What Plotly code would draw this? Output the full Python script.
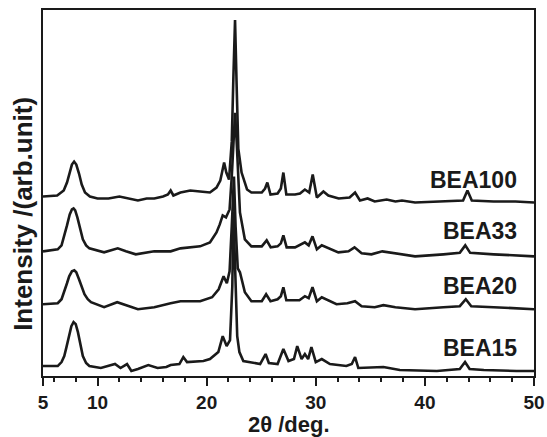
import plotly.graph_objects as go

# 2-theta positions (deg) and intensities (arb. units)
bea100_x = [5, 6.3, 6.9, 7.2, 7.45, 7.65, 7.85, 8.05, 8.3, 8.55, 8.85, 9.3, 10.0, 11.0, 12.0, 12.8, 13.7,
            14.5, 15.2, 16.0, 16.45, 16.7, 16.95, 17.6, 18.5, 19.4, 20.3, 20.9, 21.25, 21.6, 21.8, 22.05,
            22.3, 22.45, 22.6, 22.75, 22.9, 23.2, 23.7, 24.1, 25.05, 25.35, 25.56, 25.85, 26.5, 26.8,
            27.03, 27.3, 28.1, 28.55, 29.0, 29.4, 29.72, 30.1, 30.7, 31.15, 32.1, 33.1, 33.6, 34.05,
            34.75, 35.4, 36.5, 37.3, 37.9, 39.1, 41.7, 43.5, 43.9, 44.3, 46.3, 48.3, 50]
bea100_y = [180, 181, 186, 194, 204, 212, 215, 212, 203, 192, 184, 180, 178, 178, 180, 178, 176,
            178, 178, 180, 182, 186, 181, 184, 186, 185, 184, 189, 196, 214, 204, 197,
            235, 300, 357, 290, 228, 204, 187, 184, 184, 188, 194, 182, 183, 188,
            204, 182, 182, 183, 187, 184, 202, 179, 185, 181, 178, 179, 184, 176,
            178, 175, 177, 175, 176, 174, 175, 176, 186, 176, 175, 175, 174]

bea33_x = [5, 6.35, 6.7, 6.95, 7.2, 7.45, 7.65, 7.8, 7.95, 8.15, 8.4, 8.65, 8.95, 9.25, 10.6, 11.85,
           12.6, 13.5, 15.2, 16.7, 17.6, 19.4, 20.3, 20.9, 21.2, 21.47, 21.77, 22.1, 22.3, 22.45, 22.6,
           22.75, 22.9, 23.05, 23.5, 24.1, 25.05, 25.5, 25.87, 26.5, 26.8, 27.03, 27.33, 28.1, 29.0,
           29.35, 29.7, 30.1, 30.55, 32.07, 33.0, 33.55, 34.2, 35.1, 36.1, 37.3, 39.1, 41.7, 43.2,
           43.7, 44.15, 46.3, 48.3, 50]
bea33_y = [125, 127, 131, 140, 151, 162, 167, 168, 166, 159, 148, 137, 131, 128, 124, 128,
           125, 122, 125, 125, 128, 130, 134, 144, 152, 161, 159, 167, 200, 240, 264,
           235, 195, 164, 137, 130, 130, 136, 129, 130, 133, 141, 129, 129, 134,
           131, 140, 127, 131, 124, 125, 129, 123, 122, 125, 123, 120, 122, 123.5,
           131, 123.5, 122, 121, 120]

bea20_x = [5, 6.35, 6.7, 6.95, 7.2, 7.4, 7.65, 7.87, 8.05, 8.3, 8.55, 8.8, 9.1, 9.4, 10.6, 11.8, 13.7,
           15.2, 16.7, 17.6, 19.4, 20.5, 21.1, 21.55, 21.85, 22.1, 22.3, 22.5, 22.65, 22.85, 23.05,
           23.5, 24.1, 25.05, 25.45, 25.85, 26.5, 26.8, 27.03, 27.3, 28.5, 29.0, 29.35, 29.7, 30.1,
           30.55, 31.9, 32.9, 33.6, 34.2, 35.4, 36.2, 37.3, 39.1, 41.7, 43.2, 43.75, 44.25, 46.3,
           48.3, 50]
bea20_y = [72, 73, 77, 84, 93, 100, 105, 106, 104, 97, 89, 82, 77, 74, 69, 74, 67,
           69, 73, 75, 75, 79, 87, 100, 93, 105, 150, 200, 150, 108, 104,
           84, 75, 75, 82, 75, 77, 80, 89, 76, 76, 80, 78, 89, 75,
           79, 72, 73, 75, 70, 69, 71, 69, 67, 69, 70, 77, 70, 69,
           68, 67]

bea15_x = [5, 6.35, 6.7, 6.95, 7.15, 7.35, 7.6, 7.8, 8.0, 8.2, 8.45, 8.65, 8.95, 9.25, 10.3, 11.6,
           12.1, 12.7, 13.1, 13.7, 14.65, 15.5, 16.3, 16.7, 17.5, 17.86, 18.2, 19.7, 20.3, 21.07,
           21.47, 21.83, 22.14, 22.35, 22.45, 22.6, 22.8, 23.0, 23.36, 24.9, 25.4, 25.7, 26.5, 27.03,
           27.5, 28.0, 28.3, 28.7, 29.0, 29.3, 29.6, 30.0, 30.55, 31.3, 32.8, 33.3, 33.6, 33.9, 36.2,
           37.7, 41.1, 43.2, 43.68, 44.1, 45.4, 48.4, 50]
bea15_y = [10, 10, 14, 20, 29, 40, 50, 54, 52, 44, 32, 20, 13, 10, 8, 12,
           8, 12, 5, 7, 11, 8, 9, 11, 12, 19, 14, 15, 17, 24,
           40, 30, 36, 90, 165, 100, 40, 24, 15, 12, 22, 13, 12, 27,
           15, 17, 30, 17, 22, 17, 29, 14, 17, 12, 10, 12, 19, 8, 9,
           6, 5, 7, 14, 7, 6, 5, 5]

series = [("BEA100", bea100_x, bea100_y), ("BEA33", bea33_x, bea33_y),
          ("BEA20", bea20_x, bea20_y), ("BEA15", bea15_x, bea15_y)]

label_names = ["BEA100", "BEA33", "BEA20", "BEA15"]
label_y = [197, 145, 90, 28]
label_x = 48.6

x_tickvals = [5, 10, 20, 30, 40, 50]

FONT = "Liberation Sans, Arial, sans-serif"
INK = "#1a1a1a"

fig = go.Figure()
for name, xs, ys in series:
    fig.add_trace(go.Scatter(x=xs, y=ys, mode="lines", name=name,
                             line=dict(color=INK, width=2.6), showlegend=False))

for name, yy in zip(label_names, label_y):
    fig.add_annotation(x=label_x, y=yy, text="<b>%s</b>" % name, showarrow=False,
                       xanchor="right", yanchor="middle",
                       font=dict(family=FONT, size=23, color=INK))

fig.add_annotation(xref="paper", yref="paper", x=0, y=0.443, xshift=-20,
                   text="<b>Intensity /(arb.unit)</b>", textangle=-90, showarrow=False,
                   xanchor="center", yanchor="middle",
                   font=dict(family=FONT, size=26, color=INK))

fig.add_annotation(xref="paper", yref="paper", x=0.5, y=0, yshift=-62,
                   text="<b>2θ /deg.</b>", showarrow=False,
                   xanchor="center", yanchor="bottom", borderpad=0,
                   font=dict(family=FONT, size=22, color=INK))

fig.update_layout(
    width=547, height=437,
    margin=dict(l=43, r=13, t=10, b=61, autoexpand=False),
    paper_bgcolor="white", plot_bgcolor="white",
    font=dict(family=FONT, color=INK),
    xaxis=dict(range=[5, 50], tickvals=x_tickvals,
               ticktext=["<b>%d</b>" % v for v in x_tickvals],
               ticks="outside", ticklen=8, tickwidth=2, tickcolor=INK,
               automargin=False,
               minor=dict(tick0=0, dtick=2, ticks="outside", ticklen=4, tickwidth=2, tickcolor=INK),
               showline=True, linecolor=INK, linewidth=2, mirror=True,
               showgrid=False, zeroline=False,
               tickfont=dict(family=FONT, size=19, color=INK)),
    yaxis=dict(range=[0, 367], showticklabels=False, ticks="", automargin=False,
               showline=True, linecolor=INK, linewidth=2, mirror=True,
               showgrid=False, zeroline=False),
)

fig.write_html("out.html",
               config={"displayModeBar": False, "responsive": False},
               post_script="document.body.style.margin='0px';document.body.style.overflow='hidden';")
